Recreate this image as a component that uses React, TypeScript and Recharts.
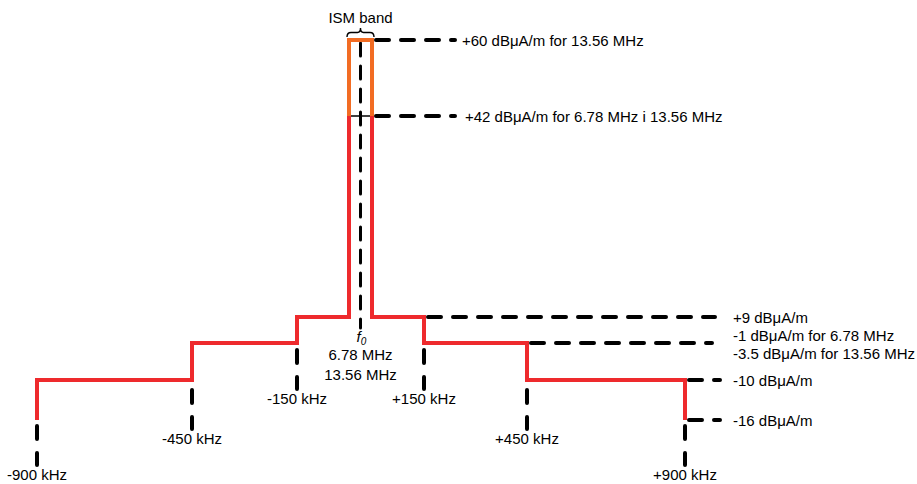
import {
  ComposedChart,
  Line,
  ReferenceArea,
  ReferenceLine,
  XAxis,
  YAxis,
} from "recharts"

/* ---------- data: frequency offsets from f0 (kHz) and limits (dBμA/m) ---------- */

const offsetsKHz = [-900, -450, -150, 150, 450, 900]
const offsetLabels = ["-900 kHz", "-450 kHz", "-150 kHz", "+150 kHz", "+450 kHz", "+900 kHz"]
const ismHalfKHz = 7

const floorLevel = -16
const stepLevels = [-10, -1, 9] // outer -> inner
const ismBaseLevel = 42
const ismPeakLevel = 60

const noteLevels = [60, 42, 9, -1, -10, -16]
const noteTexts = [
  ["+60 dBμA/m for 13.56 MHz"],
  ["+42 dBμA/m for 6.78 MHz i 13.56 MHz"],
  ["+9 dBμA/m"],
  ["-1 dBμA/m for 6.78 MHz", "-3.5 dBμA/m for 13.56 MHz"],
  ["-10 dBμA/m"],
  ["-16 dBμA/m"],
]
const centerFreqs = ["6.78 MHz", "13.56 MHz"]

/* ---------- schematic (not to scale) axes ---------- */

const W = 917
const H = 484
const X_SLOTS: [number, number][] = [
  [-900, 37], [-450, 192], [-150, 297], [-7, 349], [0, 360.5], [7, 372], [150, 424], [450, 527], [900, 685],
]
const Y_SLOTS: [number, number][] = [
  [-16, 420], [-10, 380], [-1, 343], [9, 317], [42, 116], [60, 40],
]
// where each note's dashed lead ends / where its text starts
const NOTE_END = [455, 455, 715, 712, 720, 720]
const NOTE_X = [462, 465, 733, 733, 733, 733]

function warp(v: number, slots: [number, number][]) {
  let i = 1
  while (i < slots.length - 1 && v > slots[i][0]) i++
  const [a0, b0] = slots[i - 1]
  const [a1, b1] = slots[i]
  return b0 + ((v - a0) * (b1 - b0)) / (a1 - a0)
}
const kx = (f: number) => warp(f, X_SLOTS)
const ly = (l: number) => warp(l, Y_SLOTS)
const pt = (f: number, l: number) => ({ x: kx(f), y: ly(l) })

const FONT = '"Liberation Sans", Arial, Helvetica, sans-serif'
const RED = "#ee2a2d"
const ORANGE = "#f26c23"
const INK = "#000"

const [outer, mid, inner] = stepLevels
const [l900, l450, l150, r150, r450, r900] = offsetsKHz

const redLeft = [
  pt(l900, floorLevel), pt(l900, outer), pt(l450, outer), pt(l450, mid),
  pt(l150, mid), pt(l150, inner), pt(-ismHalfKHz, inner), pt(-ismHalfKHz, ismBaseLevel),
]
const ismTop = [
  pt(-ismHalfKHz, ismBaseLevel), pt(-ismHalfKHz, ismPeakLevel),
  pt(ismHalfKHz, ismPeakLevel), pt(ismHalfKHz, ismBaseLevel),
]
const redRight = [
  pt(ismHalfKHz, ismBaseLevel), pt(ismHalfKHz, inner), pt(r150, inner), pt(r150, mid),
  pt(r450, mid), pt(r450, outer), pt(r900, outer), pt(r900, floorLevel),
]

// level just under each offset marker
const underLevel = [floorLevel, outer, mid, mid, outer, floorLevel]
const underGap = [6, 10, 7, 7, 10, 6]

function Lines({ x, y, lines, anchor = "start", gap = 18 }: {
  x: number; y: number; lines: string[]; anchor?: string; gap?: number
}) {
  const top = y - ((lines.length - 1) * gap) / 2
  return (
    <text fontFamily={FONT} fontSize={15} fill={INK} textAnchor={anchor}>
      {lines.map((t, i) => (
        <tspan key={i} x={x} y={top + i * gap + 5}>{t}</tspan>
      ))}
    </text>
  )
}

const vb = (p: any) => p.viewBox ?? p

function Brace(p: any) {
  const { x, y, width: w, height: h } = p
  const m = y + h / 2
  const c = x + w / 2
  const d = `M${x},${y + h} Q${x},${m} ${x + 4},${m} L${c - 3},${m} Q${c},${m} ${c},${y} Q${c},${m} ${c + 3},${m} L${x + w - 4},${m} Q${x + w},${m} ${x + w},${y + h}`
  return <path d={d} fill="none" stroke={INK} strokeWidth={1.4} />
}

export default function App() {
  return (
    <div style={{ position: "absolute", left: 0, top: 0, background: "#fff" }}>
      <ComposedChart width={W} height={H} margin={{ top: 0, right: 0, bottom: 0, left: 0 }}>
        <XAxis type="number" dataKey="x" domain={[0, W]} hide allowDataOverflow />
        <YAxis type="number" dataKey="y" domain={[0, H]} reversed hide allowDataOverflow />

        {/* centre frequency marker */}
        <ReferenceLine
          segment={[{ x: kx(0), y: ly(ismPeakLevel) + 3 }, { x: kx(0), y: ly(inner) + 11 }]}
          stroke={INK}
          strokeWidth={3}
          strokeDasharray="13 10"
          strokeLinecap="round"
          label={(p: any) => {
            const v = vb(p)
            const cx = v.x
            const y0 = v.y + v.height
            return (
              <g>
                <text x={cx - 4} y={y0 + 14} fontFamily={FONT} fontSize={15} fontStyle="italic" fill={INK}>
                  f<tspan fontSize={10} dy={3}>0</tspan>
                </text>
                <Lines x={cx} y={y0 + 37} lines={centerFreqs} anchor="middle" gap={20} />
              </g>
            )
          }}
        />

        {/* thin base line across the ISM band */}
        <ReferenceLine
          segment={[pt(-ismHalfKHz, ismBaseLevel), pt(ismHalfKHz, ismBaseLevel)]}
          stroke={INK}
          strokeWidth={1.5}
        />

        {/* level notes */}
        {noteLevels.map((lv, i) => {
          const startF = [ismHalfKHz, ismHalfKHz, r150, r450, r900, r900][i]
          return (
            <ReferenceLine
              key={`n${lv}`}
              segment={[{ x: kx(startF) + 4, y: ly(lv) }, { x: NOTE_END[i], y: ly(lv) }]}
              stroke={INK}
              strokeWidth={4}
              strokeDasharray="13 12"
              strokeLinecap="round"
              label={(p: any) => {
                const v = vb(p)
                return <Lines x={NOTE_X[i]} y={v.y + (i === 3 ? 2 : 1)} lines={noteTexts[i]} />
              }}
            />
          )
        })}

        {/* offset markers */}
        {offsetsKHz.map((f, i) => {
          const top = ly(underLevel[i]) + underGap[i]
          return (
            <ReferenceLine
              key={`o${f}`}
              segment={[{ x: kx(f), y: top }, { x: kx(f), y: top + 39 }]}
              stroke={INK}
              strokeWidth={4}
              strokeDasharray="13 14"
              strokeLinecap="round"
              label={(p: any) => {
                const v = vb(p)
                return <Lines x={v.x} y={v.y + v.height + 10} lines={[offsetLabels[i]]} anchor="middle" />
              }}
            />
          )
        })}

        {/* ISM band brace */}
        <ReferenceArea
          x1={kx(-ismHalfKHz) - 2}
          x2={kx(ismHalfKHz) + 2}
          y1={ly(ismPeakLevel) - 12}
          y2={ly(ismPeakLevel) - 3}
          shape={Brace}
          label={(p: any) => {
            const v = vb(p)
            return <Lines x={v.x + v.width / 2} y={v.y - 10} lines={["ISM band"]} anchor="middle" />
          }}
        />

        <Line data={redLeft} dataKey="y" stroke={RED} strokeWidth={4} strokeLinejoin="miter" strokeLinecap="butt" dot={false} activeDot={false} isAnimationActive={false} />
        <Line data={redRight} dataKey="y" stroke={RED} strokeWidth={4} strokeLinejoin="miter" strokeLinecap="butt" dot={false} activeDot={false} isAnimationActive={false} />
        <Line data={ismTop} dataKey="y" stroke={ORANGE} strokeWidth={4} strokeLinejoin="miter" strokeLinecap="butt" dot={false} activeDot={false} isAnimationActive={false} />
      </ComposedChart>
    </div>
  )
}
